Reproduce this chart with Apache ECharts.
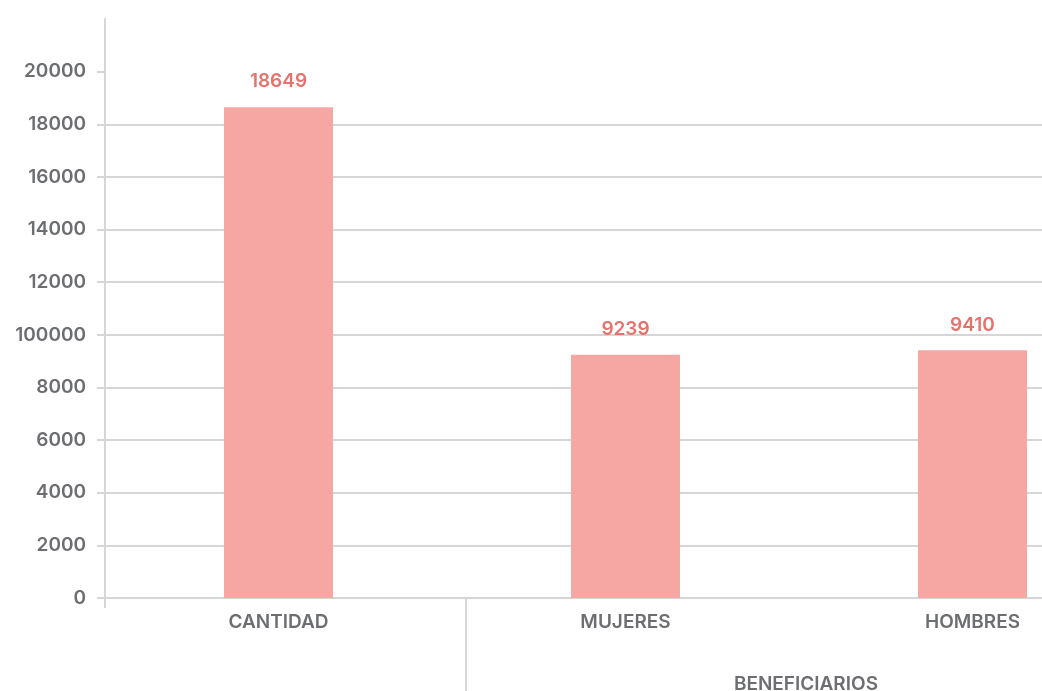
<!DOCTYPE html>
<html>
<head>
<meta charset="utf-8">
<script src="https://cdn.jsdelivr.net/npm/echarts@6/dist/echarts.min.js"></script>
<style>
  html, body { margin: 0; padding: 0; background: #ffffff; }
  #chart { width: 1042px; height: 691px; }
</style>
</head>
<body>
<div id="chart"></div>
<script>
const categories = ['CANTIDAD', 'MUJERES', 'HOMBRES'];
const values = [18649, 9239, 9410];
const groupLabel = 'BENEFICIARIOS';
const yTickValues = [0, 2000, 4000, 6000, 8000, 10000, 12000, 14000, 16000, 18000, 20000];
const yTickLabels = ['0', '2000', '4000', '6000', '8000', '100000', '12000', '14000', '16000', '18000', '20000'];

const FONT = 'Inter';
const FW = 600;
const FS = 19;
const GRID = '#d6d6d6';
const TEXT = '#6d6e71';

const chart = echarts.init(document.getElementById('chart'));
chart.setOption({
  animation: false,
  grid: { left: 105, top: 19, bottom: 93, right: -104, containLabel: false, outerBoundsMode: 'none' },
  xAxis: [
    {
      type: 'category',
      data: categories,
      axisLine: { show: true, lineStyle: { color: GRID, width: 2 } },
      axisTick: { show: false },
      axisLabel: { color: TEXT, fontFamily: FONT, fontSize: FS, fontWeight: FW, margin: 15 }
    },
    {
      type: 'value', min: 0, max: 3, position: 'bottom',
      axisLine: { show: false },
      splitLine: { show: false },
      axisTick: { show: true, customValues: [0], length: 10, lineStyle: { color: GRID, width: 2 } },
      axisLabel: { show: false }
    },
    {
      type: 'value', min: 0, max: 3, position: 'bottom',
      axisLine: { show: false },
      splitLine: { show: false },
      axisTick: { show: true, customValues: [1.04], length: 93, lineStyle: { color: GRID, width: 2 } },
      axisLabel: {
        show: true, customValues: [2.02], formatter: () => groupLabel,
        color: TEXT, fontFamily: FONT, fontSize: FS, fontWeight: FW, margin: 77
      }
    }
  ],
  yAxis: {
    type: 'value', min: 0, max: 22000, interval: 2000,
    axisLine: { show: true, lineStyle: { color: GRID, width: 2 } },
    axisTick: { show: true, length: 8, customValues: yTickValues, lineStyle: { color: GRID, width: 2 } },
    splitLine: { show: true, showMaxLine: false, lineStyle: { color: GRID, width: 2 } },
    axisLabel: {
      customValues: yTickValues,
      formatter: (v) => { const i = yTickValues.indexOf(v); return i >= 0 ? yTickLabels[i] : ''; },
      color: TEXT, fontFamily: FONT, fontSize: FS, fontWeight: FW, margin: 19
    }
  },
  series: [{
    type: 'bar',
    xAxisIndex: 0,
    data: values,
    barWidth: 109,
    itemStyle: { color: '#f6a7a3' },
    label: {
      show: true, position: 'top', distance: 16,
      color: '#e6726c', fontFamily: FONT, fontSize: FS, fontWeight: FW
    }
  }]
});
</script>
</body>
</html>
